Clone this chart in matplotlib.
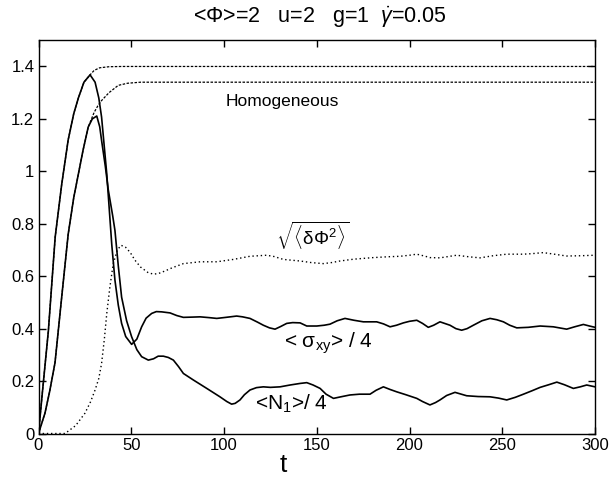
import matplotlib
matplotlib.use("Agg")
import matplotlib.pyplot as plt

plt.rcParams['font.family'] = ['Liberation Sans', 'DejaVu Sans']
plt.rcParams['mathtext.fontset'] = 'custom'
plt.rcParams['mathtext.rm'] = 'Liberation Sans'
plt.rcParams['mathtext.it'] = 'Liberation Sans:italic'
plt.rcParams['mathtext.sf'] = 'Liberation Sans'

# sigma_xy / 4 (solid, taller peak)
t_sig = [0, 2, 5.3, 9, 12.5, 16, 19, 21.5, 24.5, 27.8, 30.5, 32.5, 34, 36.8, 39.5, 41.2, 43, 44.8, 47,
         50.2, 53, 55.6, 58, 61, 63.5, 66.4, 70.9, 74.5, 78.1, 83, 87.1, 92, 96.1, 101, 106.8, 110, 114,
         118, 121.2, 124.5, 127.5, 130.5, 133.8, 137, 141, 144.6, 150, 154, 157.1, 161, 165.2, 170, 175.1,
         182.3, 186, 189.5, 193, 196.7, 200, 203.9, 207, 210.1, 213, 216.4, 221.8, 225, 228.1, 231, 234.4,
         239, 243.4, 247, 250.6, 254, 257.8, 264, 270.4, 277.5, 284.7, 289, 293.7, 297, 300]
v_sig = [0, 0.15, 0.39, 0.75, 0.95, 1.12, 1.22, 1.28, 1.34, 1.368, 1.34, 1.28, 1.207, 0.99, 0.72, 0.585, 0.49,
         0.42, 0.37, 0.34, 0.36, 0.407, 0.44, 0.458, 0.465, 0.464, 0.46, 0.45, 0.443, 0.444, 0.445, 0.442,
         0.439, 0.443, 0.448, 0.445, 0.439, 0.425, 0.413, 0.403, 0.398, 0.408, 0.42, 0.423, 0.422, 0.41, 0.41,
         0.413, 0.417, 0.43, 0.439, 0.432, 0.426, 0.426, 0.418, 0.407, 0.413, 0.422, 0.428, 0.432, 0.42, 0.405,
         0.413, 0.426, 0.413, 0.40, 0.394, 0.40, 0.413, 0.43, 0.439, 0.434, 0.426, 0.413, 0.403, 0.405, 0.41,
         0.407, 0.398, 0.407, 0.416, 0.41, 0.405]

# N1 / 4 (solid, lower peak)
t_n1 = [0, 3.5, 6, 8.9, 12.5, 16, 19, 21.5, 24, 26.8, 29, 31.4, 33, 34, 36, 37.6, 40, 41.2, 43, 44.8, 47.5,
        50.2, 53, 55.6, 59.2, 62, 64.5, 67.3, 70, 72.7, 75.5, 78.1, 83.5, 90.7, 97.8, 101.5, 104.1, 106, 108.6,
        111, 114, 117.5, 121.2, 125, 130.2, 135.6, 141, 144.6, 148, 151.8, 155, 159, 163, 167.9, 173, 178.7,
        182, 185.9, 189.5, 193.1, 198, 203.9, 207, 211, 214, 216.4, 220, 224.5, 230.8, 237, 243.4, 248, 252.4,
        257, 261.4, 266, 270.4, 275, 279.4, 283.5, 288.3, 292, 295.5, 300]
v_n1 = [0, 0.078, 0.16, 0.27, 0.52, 0.76, 0.9, 0.99, 1.08, 1.169, 1.2, 1.211, 1.17, 1.118, 1.02, 0.93, 0.83,
        0.775, 0.64, 0.52, 0.43, 0.369, 0.32, 0.293, 0.28, 0.285, 0.295, 0.295, 0.29, 0.28, 0.255, 0.229, 0.204,
        0.172, 0.14, 0.122, 0.112, 0.115, 0.128, 0.148, 0.166, 0.175, 0.178, 0.176, 0.178, 0.185, 0.191, 0.194,
        0.185, 0.172, 0.15, 0.134, 0.14, 0.147, 0.15, 0.15, 0.165, 0.178, 0.168, 0.159, 0.148, 0.134, 0.122,
        0.109, 0.118, 0.128, 0.145, 0.157, 0.144, 0.141, 0.14, 0.135, 0.128, 0.138, 0.15, 0.163, 0.176, 0.186,
        0.196, 0.186, 0.172, 0.178, 0.185, 0.178]

# sqrt(<dPhi^2>) (dotted)
t_dphi = [0, 14.3, 20, 25, 28, 30.5, 32.5, 34, 35.5, 36.8, 38.5, 40.3, 42.5, 44.5, 47, 49.5, 52, 55, 59.2, 62,
          64.6, 68.2, 72, 78.1, 87.1, 96.1, 105, 114, 123, 127, 132, 141, 147, 153.5, 158, 162.5, 170, 180.5,
          188, 194.9, 200, 203.9, 208, 211, 216.4, 225.4, 232, 238, 245, 252.4, 261.4, 266, 272.1, 278, 284.7,
          292, 300]
v_dphi = [0, 0, 0.03, 0.077, 0.12, 0.166, 0.21, 0.267, 0.36, 0.458, 0.56, 0.648, 0.70, 0.718, 0.71, 0.69,
          0.661, 0.635, 0.613, 0.608, 0.61, 0.62, 0.632, 0.648, 0.655, 0.655, 0.664, 0.676, 0.68, 0.675, 0.664,
          0.658, 0.652, 0.648, 0.652, 0.658, 0.665, 0.671, 0.674, 0.676, 0.68, 0.684, 0.677, 0.671, 0.67, 0.68,
          0.674, 0.67, 0.678, 0.684, 0.684, 0.686, 0.69, 0.684, 0.677, 0.678, 0.68]

# Homogeneous solutions (fine dashes)
t_hom_sig = [0, 2, 5.3, 9, 12.5, 16, 19, 21.5, 24.5, 27.8, 30, 33, 38, 45, 300]
v_hom_sig = [0, 0.15, 0.39, 0.75, 0.95, 1.12, 1.22, 1.28, 1.34, 1.368, 1.385, 1.395, 1.399, 1.40, 1.40]
t_hom_n1 = [0, 3.5, 6, 8.9, 12.5, 16, 19, 21.5, 24, 26.8, 28, 30, 32, 34, 38, 43, 48, 55, 300]
v_hom_n1 = [0, 0.078, 0.16, 0.27, 0.52, 0.76, 0.9, 0.99, 1.08, 1.169, 1.19, 1.225, 1.25, 1.27, 1.30, 1.328,
            1.336, 1.34, 1.34]

fig = plt.figure(figsize=(6.16, 4.82), dpi=100)
ax = fig.add_axes([0.0625, 0.1006, 0.9035, 0.8159])

ax.plot(t_hom_sig, v_hom_sig, color='black', lw=0.9, ls=(0, (2, 1.2)))
ax.plot(t_hom_n1, v_hom_n1, color='black', lw=0.9, ls=(0, (2, 1.2)))
ax.plot(t_dphi, v_dphi, color='black', lw=1.0, ls=(0, (1, 2)))
ax.plot(t_sig, v_sig, color='black', lw=1.2)
ax.plot(t_n1, v_n1, color='black', lw=1.2)

ax.set_xlim(0, 300)
ax.set_ylim(0, 1.5)
ax.set_xticks([0, 50, 100, 150, 200, 250, 300])
ax.set_yticks([0, 0.2, 0.4, 0.6, 0.8, 1.0, 1.2, 1.4])
ax.set_yticklabels(['0', '0.2', '0.4', '0.6', '0.8', '1', '1.2', '1.4'])
ax.tick_params(direction='in', top=True, right=True, length=5, width=1, labelsize=12, pad=3)
for s in ax.spines.values():
    s.set_linewidth(1.0)

ax.set_xlabel('t', fontsize=19, labelpad=0, x=0.44)

ax.text(131.5, 1.267, 'Homogeneous', fontsize=12.5, ha='center', va='center')
ax.text(147.7, 0.755, r'$\sqrt{\langle\mathrm{\delta\Phi}^2\rangle}$', fontsize=13.5, ha='center', va='center')
ax.text(156.1, 0.346, '< σ$_{\\mathrm{xy}}$> / 4', fontsize=15, ha='center', va='center')
ax.text(136.1, 0.112, '<N$_{1}$>/ 4', fontsize=15, ha='center', va='center')

fig.text(0.52, 0.953, '<Φ>=2   u=2   g=1  $\\dot{\\gamma}$=0.05', fontsize=15.5,
         ha='center', va='baseline')

fig.savefig('out.png', dpi=100)
